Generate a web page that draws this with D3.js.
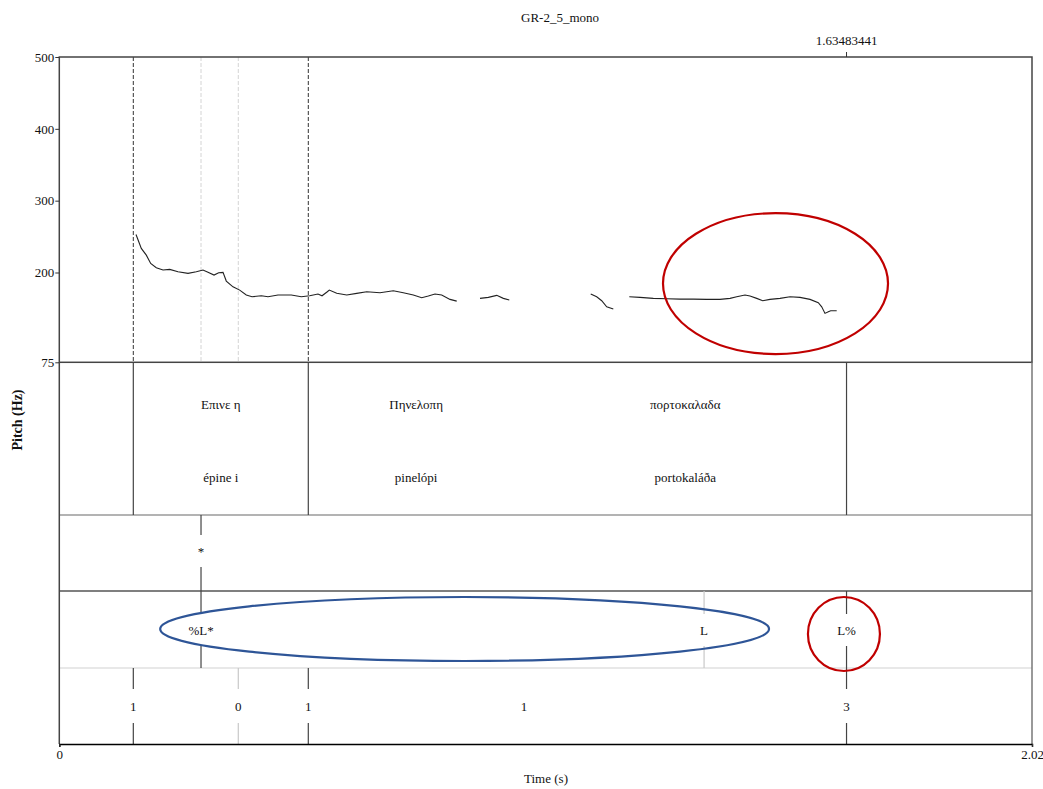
<!DOCTYPE html>
<html>
<head>
<meta charset="utf-8">
<script src="https://cdn.jsdelivr.net/npm/d3@7"></script>
<style>
  html, body { margin: 0; padding: 0; background: #fff; }
  svg text { font-family: "Liberation Serif", "Times New Roman", serif; fill: #111; }
</style>
</head>
<body>
<svg id="chart" width="1043" height="789"></svg>
<script>
// ---- Data -------------------------------------------------------------
const title = "GR-2_5_mono";
const timeDomain = [0, 2.02];
const pitchDomain = [75, 500];
const pitchTicks = [75, 200, 300, 400, 500];
const cursorTime = 1.63483441;

// F0 track (time in s, pitch in Hz), one array per voiced stretch
const pitchSeg1 = [
  [0.1593,253.0],[0.1703,233.5],[0.1807,224.2],[0.1898,212.7],[0.2014,206.6],
  [0.2154,203.4],[0.2293,204.3],[0.2465,201.0],[0.2673,198.8],[0.2845,201.0],
  [0.2984,203.4],[0.3088,200.2],[0.3213,196.4],[0.3310,199.6],[0.3400,200.2],
  [0.3468,188.1],[0.3607,180.1],[0.3746,175.5],[0.3883,168.6],[0.4002,166.2],
  [0.4195,167.6],[0.4334,166.2],[0.4542,168.6],[0.4818,168.6],[0.5026,166.2],
  [0.5200,167.6],[0.5372,170.0],[0.5456,167.6],[0.5566,173.2],[0.5607,175.5],
  [0.5761,171.0],[0.5969,168.6],[0.6176,171.0],[0.6384,173.2],[0.6660,171.8],
  [0.6936,174.6],[0.7144,171.8],[0.7352,168.6],[0.7526,164.8],[0.7663,167.2],
  [0.7802,170.0],[0.7941,168.6],[0.8114,162.6],[0.8253,160.2]
];
const pitchSeg2 = [
  [0.8737,164.0],[0.8909,165.4],[0.9084,168.2],[0.9221,164.0],[0.9345,161.6]
];
const pitchSeg3 = [
  [1.1036,170.0],[1.1160,166.2],[1.1264,160.7],[1.1368,152.3],[1.1505,149.1]
];
const pitchSeg4 = [
  [1.1837,166.2],[1.2060,165.4],[1.2336,164.0],[1.2614,163.4],[1.2890,163.0],
  [1.3166,163.0],[1.3445,162.6],[1.3721,162.6],[1.3929,164.0],[1.4068,166.2],
  [1.4240,168.6],[1.4344,167.2],[1.4483,164.0],[1.4608,160.7],[1.4759,162.6],
  [1.4967,164.0],[1.5175,166.2],[1.5382,165.4],[1.5590,162.6],[1.5762,157.9],
  [1.5833,152.3],[1.5901,143.1],[1.5970,145.4],[1.6020,146.8],[1.6144,146.8]
];
const pitchSegments = [pitchSeg1, pitchSeg2, pitchSeg3, pitchSeg4];

// Guides in the pitch panel
const guideStrong = [0.1537, 0.5171];
const guideFaint = [0.2943, 0.3717];

// Word tier: interval edges, Greek spelling and transliteration
const wordEdges = [0.1537, 0.5171, 0.965, 1.63483441];
const wordEdgesDrawn = [0.1537, 0.5171, 1.63483441];
const wordsGreek = ["Επινε η", "Πηνελοπη", "πορτοκαλαδα"];
const wordsLatin = ["épine i", "pinelópi", "portokaláða"];

// Point tiers
const starTimes = [0.2943];
const starLabels = ["*"];
const toneTimes = [0.2943, 1.339, 1.63483441];
const toneLabels = ["%L*", "L", "L%"];
const toneFaint = [1.339];
const breakTimes = [0.1537, 0.3717, 0.5171, 0.965, 1.63483441];
const breakLabels = ["1", "0", "1", "1", "3"];
const breakLined = [0.1537, 0.3717, 0.5171, 1.63483441];
const breakFaint = [0.3717];

// Highlight rings: time span, and pitch span for the one on the F0 panel
const ringFinalPitch = { t: [1.2537, 1.7210], hz: [86.5, 282.6] };
const ringNuclear = { t: [0.2095, 1.4739] };
const ringBoundary = { t: [1.5547, 1.7042] };

// ---- Layout -----------------------------------------------------------
const svg = d3.select("#chart");
const left = 59.3, right = 1032;
const pitchTop = 57, pitchBottom = 362.3;
const tierLines = [362.3, 515, 591, 668, 744];

const x = d3.scaleLinear().domain(timeDomain).range([left, right]);
const y = d3.scaleLinear().domain(pitchDomain).range([pitchBottom, pitchTop]);

// Title
svg.append("text").attr("x", 560).attr("y", 22).attr("text-anchor", "middle")
  .attr("font-size", 13).text(title);

// Guides in pitch panel
svg.append("g").selectAll("line").data(guideFaint).join("line")
  .attr("x1", d => x(d)).attr("x2", d => x(d))
  .attr("y1", pitchTop).attr("y2", pitchBottom)
  .attr("stroke", "#d4d4d4").attr("stroke-width", 1).attr("stroke-dasharray", "4,2");
svg.append("g").selectAll("line").data(guideStrong).join("line")
  .attr("x1", d => x(d)).attr("x2", d => x(d))
  .attr("y1", pitchTop).attr("y2", pitchBottom)
  .attr("stroke", "#333").attr("stroke-width", 1).attr("stroke-dasharray", "4,2");

// Pitch track
const line = d3.line().x(d => x(d[0])).y(d => y(d[1])).curve(d3.curveLinear);
svg.append("g").selectAll("path").data(pitchSegments).join("path")
  .attr("d", line).attr("fill", "none").attr("stroke", "#222").attr("stroke-width", 1.1);

// Pitch panel frame
svg.append("rect").attr("x", left).attr("y", pitchTop)
  .attr("width", right - left).attr("height", pitchBottom - pitchTop)
  .attr("fill", "none").attr("stroke", "#444").attr("stroke-width", 1.5);

// Left axis
const yAxis = d3.axisLeft(y).tickValues(pitchTicks).tickSize(4).tickPadding(1)
  .tickFormat(d3.format("d"));
const gy = svg.append("g").attr("transform", `translate(${left},0)`).call(yAxis);
gy.select(".domain").remove();
gy.selectAll(".tick line").attr("stroke", "#333");
gy.selectAll(".tick text").attr("font-size", 13).attr("font-family", "Liberation Serif").attr("fill", "#111");

// Y label
svg.append("text").attr("transform", "translate(22,420) rotate(-90)")
  .attr("text-anchor", "middle").attr("font-size", 14).attr("font-weight", "bold")
  .text("Pitch (Hz)");

// Cursor mark on top edge
svg.append("line").attr("x1", x(cursorTime)).attr("x2", x(cursorTime))
  .attr("y1", pitchTop - 5).attr("y2", pitchTop).attr("stroke", "#333");
svg.append("text").attr("x", x(cursorTime)).attr("y", 45).attr("text-anchor", "middle")
  .attr("font-size", 13).text(d3.format(".8f")(cursorTime));

// Tier separators
const sepColors = ["#444", "#9a9a9a", "#555", "#e0e0e0"];
svg.append("g").selectAll("line").data(tierLines.slice(1, 4)).join("line")
  .attr("x1", left).attr("x2", right).attr("y1", d => d).attr("y2", d => d)
  .attr("stroke", (d, i) => sepColors[i + 1]).attr("stroke-width", 1.3);

// Side frame lines for tiers
svg.append("line").attr("x1", left).attr("x2", left).attr("y1", pitchBottom).attr("y2", 744)
  .attr("stroke", "#444").attr("stroke-width", 1.5);
svg.append("line").attr("x1", right).attr("x2", right).attr("y1", pitchBottom).attr("y2", 744)
  .attr("stroke", "#777").attr("stroke-width", 1.5);

// Word tier
const wTop = tierLines[0], wBot = tierLines[1];
svg.append("g").selectAll("line").data(wordEdgesDrawn).join("line")
  .attr("x1", d => x(d)).attr("x2", d => x(d)).attr("y1", wTop).attr("y2", wBot)
  .attr("stroke", "#444").attr("stroke-width", 1.2);
const mids = wordsGreek.map((_, i) => (wordEdges[i] + wordEdges[i + 1]) / 2);
svg.append("g").selectAll("text").data(wordsGreek).join("text")
  .attr("x", (d, i) => x(mids[i])).attr("y", 409).attr("text-anchor", "middle")
  .attr("font-size", 13).text(d => d);
svg.append("g").selectAll("text").data(wordsLatin).join("text")
  .attr("x", (d, i) => x(mids[i])).attr("y", 482).attr("text-anchor", "middle")
  .attr("font-size", 13).text(d => d);

// Point tier helper: label with split marker line around it
function pointTier(times, labels, top, bot, lined, faint, cy, gap) {
  const g = svg.append("g");
  const marked = times.filter(t => lined.includes(t));
  marked.forEach(t => {
    const col = faint.includes(t) ? "#c8c8c8" : "#444";
    g.append("line").attr("x1", x(t)).attr("x2", x(t)).attr("y1", top).attr("y2", cy - gap)
      .attr("stroke", col).attr("stroke-width", 1.2);
    g.append("line").attr("x1", x(t)).attr("x2", x(t)).attr("y1", cy + gap).attr("y2", bot)
      .attr("stroke", col).attr("stroke-width", 1.2);
  });
  g.selectAll("text").data(labels).join("text")
    .attr("x", (d, i) => x(times[i])).attr("y", cy + 5).attr("text-anchor", "middle")
    .attr("font-size", 13).text(d => d);
}
pointTier(starTimes, starLabels, tierLines[1], tierLines[2], starTimes, [], 551, 16);
pointTier(toneTimes, toneLabels, tierLines[2], tierLines[3], toneTimes, toneFaint, 630, 16);
pointTier(breakTimes, breakLabels, tierLines[3], tierLines[4], breakLined, breakFaint, 706, 17);

// Bottom time axis
const xAxis = d3.axisBottom(x).tickValues(timeDomain).tickSize(3).tickPadding(3)
  .tickFormat(d => d === 0 ? "0" : d3.format(".2f")(d));
const gx = svg.append("g").attr("transform", "translate(0,744)").call(xAxis);
gx.select(".domain").attr("stroke", "#000").attr("stroke-width", 1.5);
gx.selectAll(".tick line").attr("stroke", "#333");
gx.selectAll(".tick text").attr("font-size", 13).attr("font-family", "Liberation Serif").attr("fill", "#111");
svg.append("text").attr("x", 546).attr("y", 783).attr("text-anchor", "middle")
  .attr("font-size", 13).text("Time (s)");

// Highlight rings
function ring(cx, cy, rx, ry, color) {
  svg.append("ellipse").attr("cx", cx).attr("cy", cy).attr("rx", rx).attr("ry", ry)
    .attr("fill", "none").attr("stroke", color).attr("stroke-width", 2.2);
}
ring((x(ringFinalPitch.t[0]) + x(ringFinalPitch.t[1])) / 2,
     (y(ringFinalPitch.hz[0]) + y(ringFinalPitch.hz[1])) / 2,
     (x(ringFinalPitch.t[1]) - x(ringFinalPitch.t[0])) / 2,
     (y(ringFinalPitch.hz[0]) - y(ringFinalPitch.hz[1])) / 2, "#c00000");
ring((x(ringNuclear.t[0]) + x(ringNuclear.t[1])) / 2, 629,
     (x(ringNuclear.t[1]) - x(ringNuclear.t[0])) / 2, 32, "#2e5597");
ring((x(ringBoundary.t[0]) + x(ringBoundary.t[1])) / 2, 634,
     (x(ringBoundary.t[1]) - x(ringBoundary.t[0])) / 2, 37, "#c00000");
</script>
</body>
</html>
